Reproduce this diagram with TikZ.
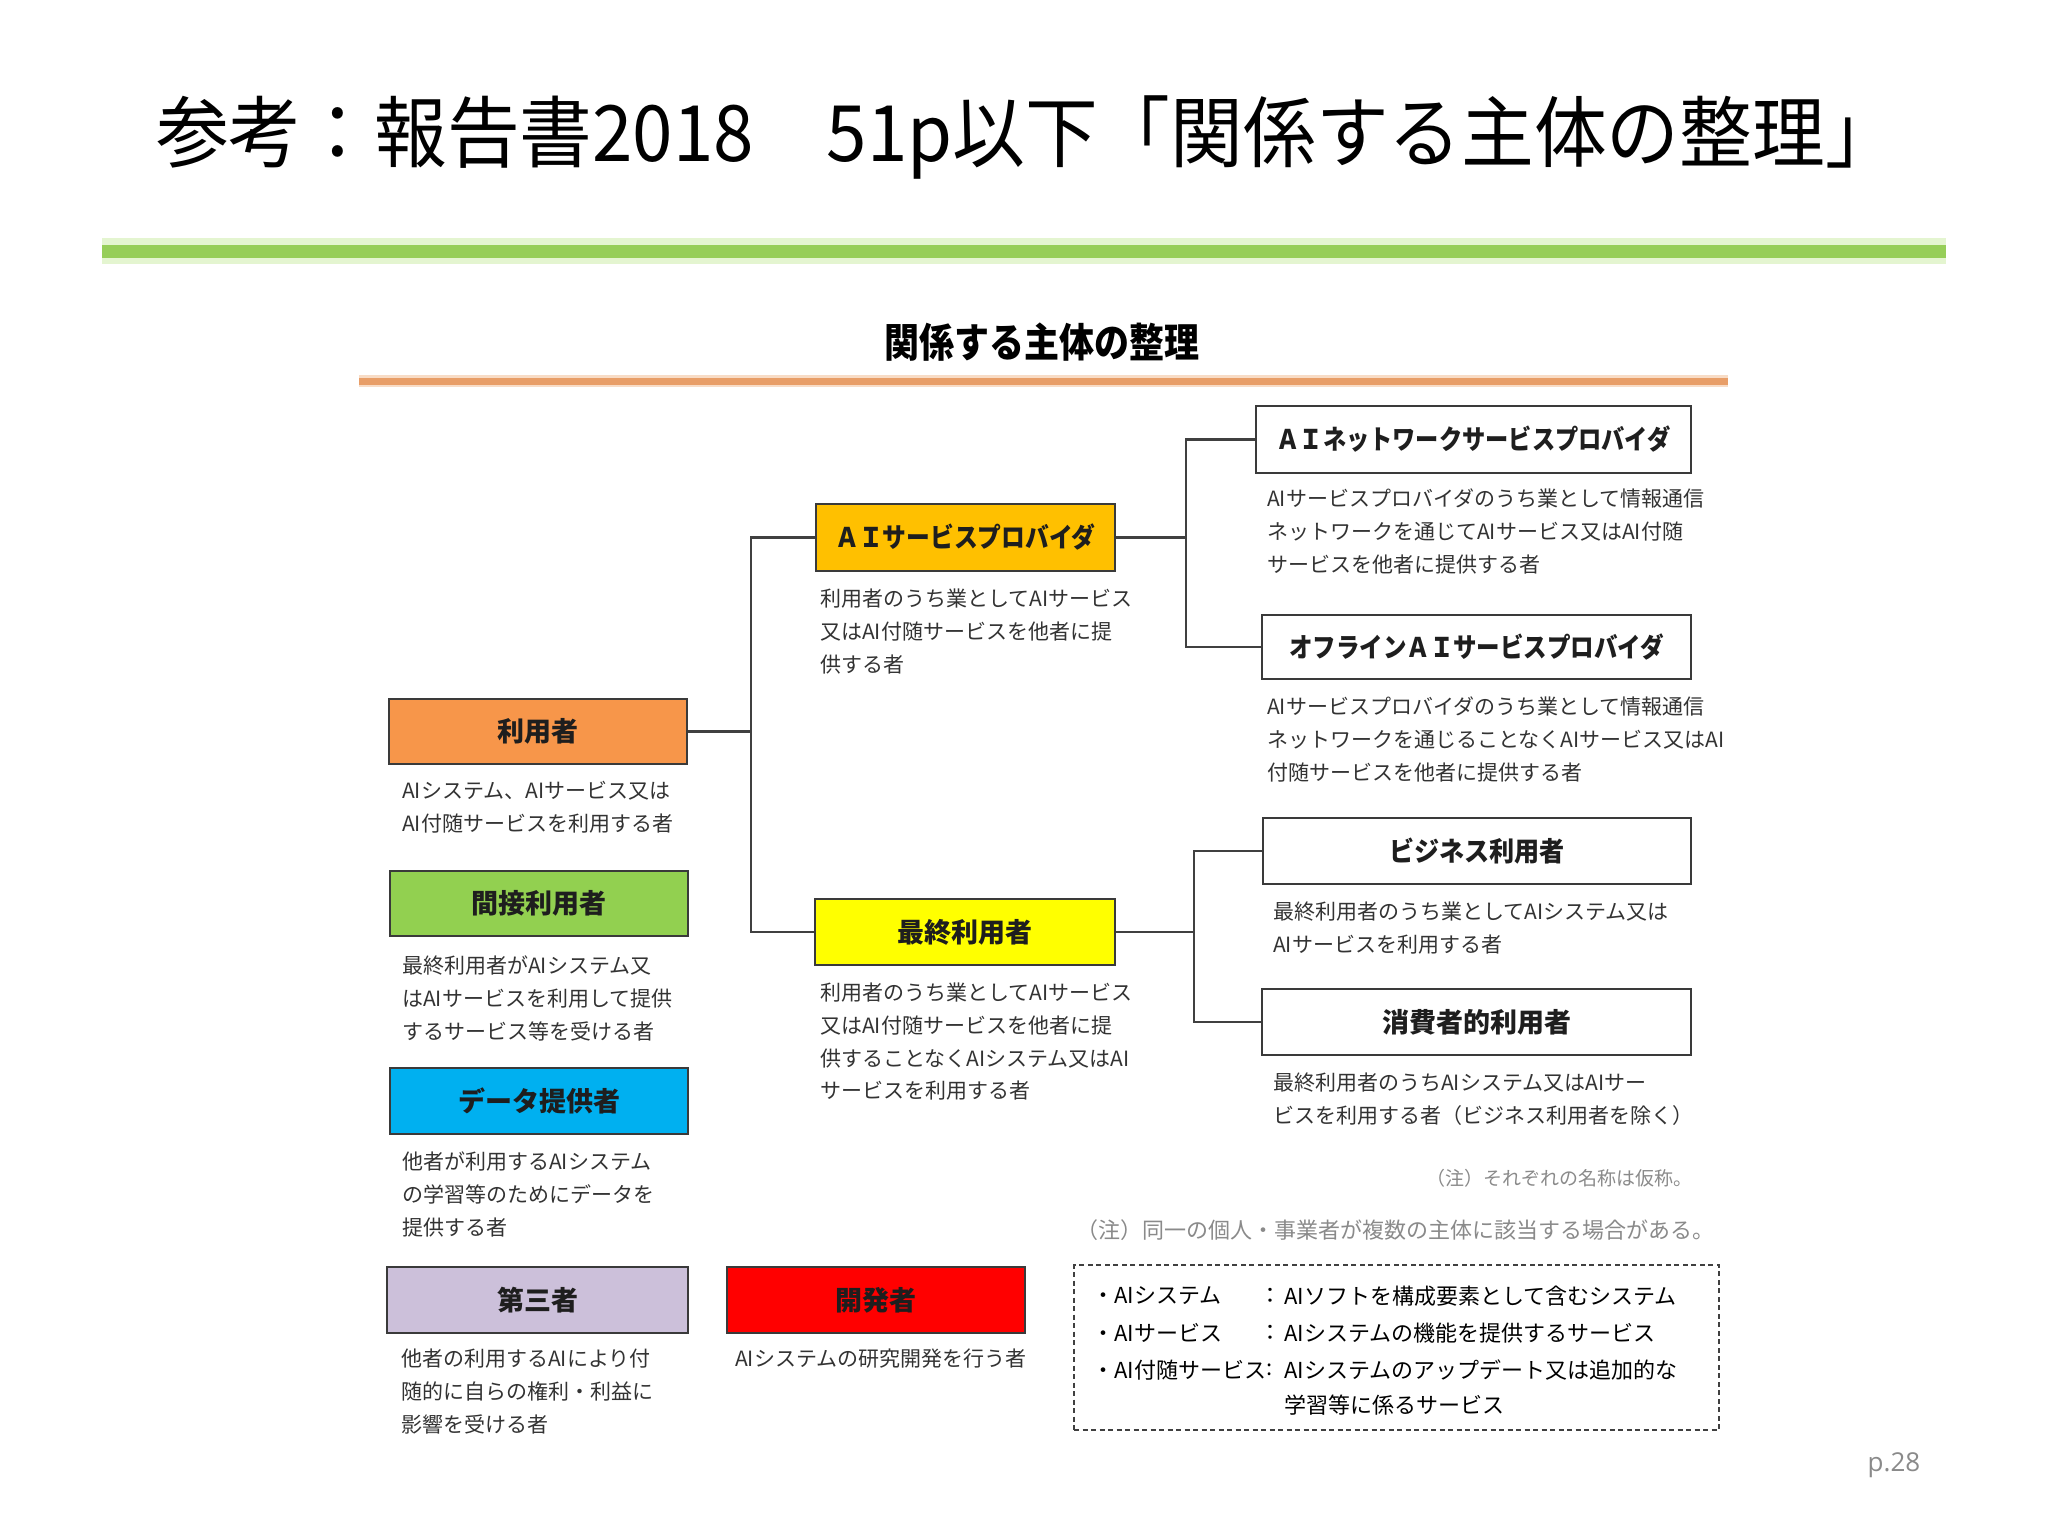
\documentclass[tikz,border=0pt]{standalone}
\usepackage{fontspec}
\usepackage{graphicx}
\newfontfamily\cjk{Noto Sans CJK JP}
\newfontfamily\pgfont{Open Sans}
\definecolor{cOrange}{HTML}{F7964A}
\definecolor{cGreen}{HTML}{92D050}
\definecolor{cBlue}{HTML}{00B0F0}
\definecolor{cLav}{HTML}{CCC0DA}
\definecolor{cRed}{HTML}{FF0000}
\definecolor{cAmber}{HTML}{FFC000}
\definecolor{cYellow}{HTML}{FFFF00}
\definecolor{boxborder}{HTML}{3A3A3A}
\definecolor{labeltext}{HTML}{1E1E1E}
\definecolor{desctext}{HTML}{333333}
\definecolor{linkcol}{HTML}{404040}
\definecolor{greenline}{HTML}{96CE58}
\definecolor{greenglow}{HTML}{E4F5D0}
\definecolor{orangeline}{HTML}{E89E68}
\definecolor{orangeglow}{HTML}{F8DCC6}
\definecolor{notegray}{HTML}{8A8A8A}
\tikzset{
  ent/.style={draw=boxborder, line width=2.5pt, inner sep=0pt,
    font=\cjk\bfseries\fontsize{27}{27}\selectfont, text=labeltext},
  desc/.style={anchor=north west, inner sep=0pt, align=left,
    font=\cjk\fontsize{21}{32.6}\selectfont, text=desctext},
  defl/.style={anchor=west, inner sep=0pt,
    font=\cjk\fontsize{22}{22}\selectfont, text=black},
  link/.style={draw=linkcol, line width=2.5pt},
}
\begin{document}
\begin{tikzpicture}[x=1pt,y=-1pt]
\useasboundingbox (0,0) rectangle (2048,1536);
\fill[white] (0,0) rectangle (2048,1536);

% title
\node[inner sep=0pt, font=\cjk\fontsize{72}{72}\selectfont] (title) at (1027,138)
  {\scalebox{1.01}[1.08]{参考：報告書2018　51p以下「関係する主体の整理」}};
\draw[line width=26pt, greenglow] (102,251) -- (1946,251);
\draw[line width=13pt, greenline] (102,251) -- (1946,251);

% subtitle
\node[inner sep=0pt, font=\cjk\bfseries\fontsize{35}{35}\selectfont] (sub) at (1042,342)
  {\scalebox{1}[1.15]{関係する主体の整理}};
\draw[line width=12pt, orangeglow] (359,381) -- (1728,381);
\draw[line width=7pt, orangeline] (359,381) -- (1728,381);

% left column
\node[ent, fill=cOrange, minimum width=298pt, minimum height=65pt] (riyo) at (538,731.5) {利用者};
\node[desc] (riyod) at (402,781) {AIシステム、AIサービス又は\\AI付随サービスを利用する者};

\node[ent, fill=cGreen, minimum width=298pt, minimum height=65pt] (kansetsu) at (539,903.5) {間接利用者};
\node[desc] (kansetsud) at (402,956) {最終利用者がAIシステム又\\はAIサービスを利用して提供\\するサービス等を受ける者};

\node[ent, fill=cBlue, minimum width=298pt, minimum height=66pt] (data) at (539,1101) {データ提供者};
\node[desc] (datad) at (402,1152) {他者が利用するAIシステム\\の学習等のためにデータを\\提供する者};

\node[ent, fill=cLav, minimum width=301pt, minimum height=66pt] (daisan) at (537.5,1300) {第三者};
\node[desc] (daisand) at (401,1349) {他者の利用するAIにより付\\随的に自らの権利・利益に\\影響を受ける者};

\node[ent, fill=cRed, minimum width=298pt, minimum height=66pt] (kaihatsu) at (876,1300) {開発者};
\node[desc] (kaihatsud) at (735,1349) {AIシステムの研究開発を行う者};

% middle column
\node[ent, fill=cAmber, minimum width=299pt, minimum height=67pt] (aisp) at (965.5,537.5)
  {\scalebox{0.88}[1]{ＡＩサービスプロバイダ}};
\node[desc] (aispd) at (820,589) {利用者のうち業としてAIサービス\\又はAI付随サービスを他者に提\\供する者};

\node[ent, fill=cYellow, minimum width=300pt, minimum height=66pt] (saishu) at (965,932) {最終利用者};
\node[desc] (saishud) at (820,983) {利用者のうち業としてAIサービス\\又はAI付随サービスを他者に提\\供することなくAIシステム又はAI\\サービスを利用する者};

% right column
\node[ent, fill=white, minimum width=435pt, minimum height=67pt] (network) at (1473.5,439.5)
  {\scalebox{0.86}[1]{ＡＩネットワークサービスプロバイダ}};
\node[desc] (networkd) at (1267,489) {AIサービスプロバイダのうち業として情報通信\\ネットワークを通じてAIサービス又はAI付随\\サービスを他者に提供する者};

\node[ent, fill=white, minimum width=429pt, minimum height=64pt] (offline) at (1476.5,647)
  {\scalebox{0.87}[1]{オフラインＡＩサービスプロバイダ}};
\node[desc] (offlined) at (1267,697) {AIサービスプロバイダのうち業として情報通信\\ネットワークを通じることなくAIサービス又はAI\\付随サービスを他者に提供する者};

\node[ent, fill=white, minimum width=428pt, minimum height=66pt] (business) at (1477,851)
  {\scalebox{0.93}[1]{ビジネス利用者}};
\node[desc] (businessd) at (1273,902) {最終利用者のうち業としてAIシステム又は\\AIサービスを利用する者};

\node[ent, fill=white, minimum width=429pt, minimum height=66pt] (consumer) at (1476.5,1022) {消費者的利用者};
\node[desc] (consumerd) at (1273,1073) {最終利用者のうちAIシステム又はAIサー\\ビスを利用する者（ビジネス利用者を除く）};

% connectors
\coordinate (t1) at (751,0);
\coordinate (t2) at (1186,0);
\coordinate (t3) at (1194,0);
\draw[link] (riyo.east) -- (riyo.east -| t1) |- (aisp.west);
\draw[link] (riyo.east -| t1) |- (saishu.west);
\draw[link] (aisp.east) -- (aisp.east -| t2) |- (network.west);
\draw[link] (aisp.east -| t2) |- (offline.west);
\draw[link] (saishu.east) -- (saishu.east -| t3) |- (business.west);
\draw[link] (saishu.east -| t3) |- (consumer.west);

% notes
\node[anchor=east, inner sep=0pt, font=\cjk\fontsize{19}{19}\selectfont, text=notegray] (note1) at (1693,1178)
  {（注）それぞれの名称は仮称。};
\node[anchor=west, inner sep=0pt, font=\cjk\fontsize{22}{22}\selectfont, text=notegray] (note2) at (1076,1230)
  {（注）同一の個人・事業者が複数の主体に該当する場合がある。};

% definitions box
\node[draw=linkcol, line width=2.5pt, dash pattern=on 5pt off 3.5pt, minimum width=645pt, minimum height=165pt, inner sep=0pt] (defs) at (1396.5,1347.5) {};
\node[defl] (l1) at (1092,1296) {・AIシステム};
\node[defl] (l2) at (1092,1333) {・AIサービス};
\node[defl] (l3) at (1092,1370) {・AI付随サービス};
\node[inner sep=0pt, font=\cjk\fontsize{22}{22}\selectfont] (c1) at (1270,1296) {：};
\node[inner sep=0pt, font=\cjk\fontsize{22}{22}\selectfont] (c2) at (1270,1333) {：};
\node[anchor=west, inner sep=0pt, font=\cjk\fontsize{22}{22}\selectfont] (c3) at (l3.east) {:};
\node[defl] (d1) at (1284,1296) {AIソフトを構成要素として含むシステム};
\node[defl] (d2) at (1284,1333) {AIシステムの機能を提供するサービス};
\node[defl] (d3) at (1284,1370) {AIシステムのアップデート又は追加的な};
\node[defl] (d4) at (1284,1405) {学習等に係るサービス};

% page number
\node[inner sep=0pt, font=\pgfont\fontsize{26}{26}\selectfont, text=notegray] (pg) at (1894,1465) {p.28};
\end{tikzpicture}
\end{document}
